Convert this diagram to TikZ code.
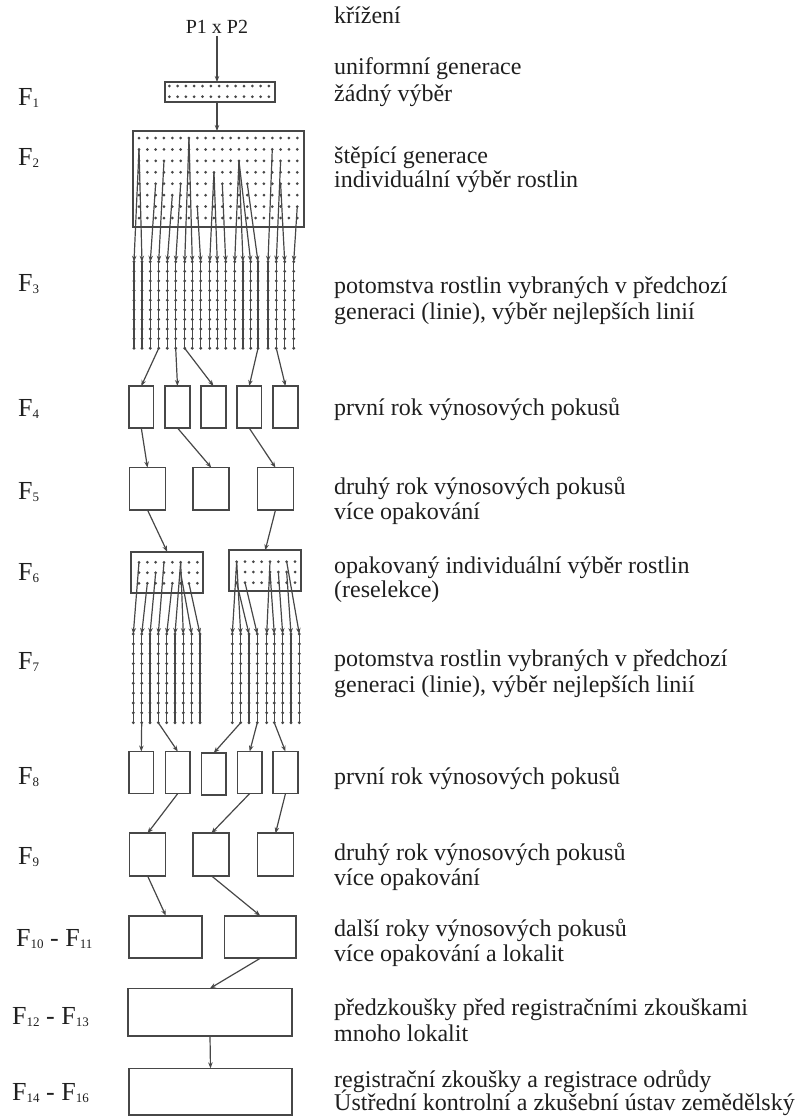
\documentclass[tikz,border=0pt]{standalone}
\usepackage{fontspec}
\setmainfont{Liberation Serif}
\usetikzlibrary{arrows.meta}
\newcommand{\sbs}[1]{\raisebox{-1.5pt}{\fontsize{13}{13}\selectfont #1}}
\begin{document}
\begin{tikzpicture}[x=1pt,y=-1pt,
  ln/.style={draw=black!72, line width=1.2pt},
  arr/.style={ln, -{Stealth[length=6pt,width=4.5pt]}},
  box/.style={draw=black!72, line width=1.7pt, inner sep=0pt, outer sep=0pt, fill=white},
  dot/.style={fill=black!72},
  lbl/.style={anchor=base west, inner sep=0pt, font=\fontsize{24}{28}\selectfont, text=black!88},
  gen/.style={anchor=base west, inner sep=0pt, font=\fontsize{26}{28}\selectfont, text=black!88},
  b24/.style={box, minimum width=24.5pt, minimum height=42pt},
  b36/.style={box, minimum width=36pt, minimum height=42.4pt}]
\useasboundingbox (0,0) rectangle (797,1117);

% ---------- boxes ----------
\node[box, minimum width=110pt, minimum height=20pt] (f1) at (220,92) {};
\node[box, minimum width=171pt, minimum height=96pt] (f2) at (218.5,179) {};
\node[b24] (f4a) at (141.3,407) {};
\node[b24] (f4b) at (177.5,407) {};
\node[b24] (f4c) at (213.5,407) {};
\node[b24] (f4d) at (249.2,407) {};
\node[b24] (f4e) at (285.5,407) {};
\node[b36] (f5a) at (147.5,488.8) {};
\node[b36] (f5b) at (211.3,488.8) {};
\node[b36] (f5c) at (275.5,488.8) {};
\node[box, minimum width=72pt, minimum height=41pt] (f6a) at (167.2,572.2) {};
\node[box, minimum width=72pt, minimum height=41pt] (f6b) at (265.2,570.8) {};
\node[b24] (f8a) at (141.3,772.5) {};
\node[b24] (f8b) at (177.8,772.5) {};
\node[b24] (f8c) at (213.7,774) {};
\node[b24] (f8d) at (249.7,772.5) {};
\node[b24] (f8e) at (285.5,772.5) {};
\node[b36] (f9a) at (147.5,854.5) {};
\node[b36] (f9b) at (211.3,854.5) {};
\node[b36] (f9c) at (275.5,854.5) {};
\node[box, minimum width=73pt, minimum height=42.6pt] (f10a) at (165.8,937) {};
\node[box, minimum width=71.7pt, minimum height=42.6pt] (f10b) at (260.2,937) {};
\node[box, minimum width=163.4pt, minimum height=47.7pt] (f12) at (210,1012.2) {};
\node[box, minimum width=162.4pt, minimum height=46.7pt] (f14) at (210.5,1091.7) {};

% ---------- dots in boxes ----------
\foreach \i in {0,...,12} \foreach \y in {86,96.7} \fill[dot] ({169.3+8.3*\i},\y) circle (1.5pt);
\foreach \i in {0,...,19} \foreach \r in {0,...,7} \fill[dot] ({139+8.33*\i},{138+11.43*\r}) circle (1.5pt);
\foreach \i in {0,...,7} \foreach \y in {562.3,572.7,583.3} \fill[dot] ({139+8.33*\i},\y) circle (1.5pt);
\foreach \i in {0,...,7} \foreach \y in {561.7,572,582.7} \fill[dot] ({236.7+8.33*\i},\y) circle (1.5pt);

% ---------- top ----------
\node[inner sep=2pt, font=\fontsize{20}{22}\selectfont, text=black!88] (px) at (217,27) {P1 x P2};
\draw[arr] (px.south) -- (px.south |- f1.north);
\draw[arr] (f1.south -| px) -- (f2.north -| px);

% ---------- F3 lines ----------
\foreach \x/\c/\r [count=\i] in {134/0/1,142/0/1,150.3/2/4,158.7/3/2,167.3/4/5,175.7/5/4,184.7/6/0,192.3/6/0,200.7/7/6,209.7/9/3,217.3/9/3,225.7/10/4,234.7/12/2,243/12/2,250.7/12/2,258/13/4,268/16/1,276.3/17/2,284.7/17/4,293.7/19/6}{
  \coordinate (c3-\i) at (\x,348.3);
  \draw[ln] (\x,261.7) -- (c3-\i);
  \foreach \k in {0,...,9} \fill[dot] (\x,{261.7+9.62*\k}) circle (1.6pt);
  \draw[arr] ({139+8.33*\c},{138+11.43*\r}) -- (\x,261.7);
}
\draw[arr] (c3-4) -- (f4a.north);
\draw[arr] (c3-6) -- (f4b.north);
\draw[arr] (c3-7) -- (f4c.north);
\draw[arr] (c3-16) -- (f4d.north);
\draw[arr] (c3-18) -- (f4e.north);

% ---------- F4 -> F5 -> F6 ----------
\draw[arr] (f4a.south) -- (f5a.north);
\draw[arr] (f4b.south) -- (f5b.north);
\draw[arr] (f4d.south) -- (f5c.north);
\draw[arr] (f5a.south) -- (f6a.north);
\draw[arr] (f5c.south) -- (f6b.north);

% ---------- F7 lines ----------
\foreach \x/\c/\r [count=\i] in {133.3/0/0,141.7/1/2,150/2/1,158.3/3/0,166.7/4/2,175/5/0,183.3/5/0,191.7/5/1,200/6/2}{
  \coordinate (g1-\i) at (\x,722.7);
  \draw[ln] (\x,634) -- (g1-\i);
  \foreach \k in {0,...,9} \fill[dot] (\x,{634+9.85*\k}) circle (1.6pt);
  \draw[arr] ({139+8.33*\c},{562.3+10.5*\r}) -- (\x,634);
}
\foreach \x/\c/\r [count=\i] in {232.3/0/0,240.7/0/0,249/0/2,257.3/1/2,266.7/4/0,274.3/4/1,282.7/5/1,291/6/1,299.3/6/0}{
  \coordinate (g2-\i) at (\x,722.7);
  \draw[ln] (\x,634) -- (g2-\i);
  \foreach \k in {0,...,9} \fill[dot] (\x,{634+9.85*\k}) circle (1.6pt);
  \draw[arr] ({236.7+8.33*\c},{561.7+10.5*\r}) -- (\x,634);
}
\draw[arr] (g1-2) -- (f8a.north);
\draw[arr] (g1-4) -- (f8b.north);
\draw[arr] (g2-2) -- (f8c.north);
\draw[arr] (g2-4) -- (f8d.north);
\draw[arr] (g2-6) -- (f8e.north);

% ---------- F8 -> F14 ----------
\draw[arr] (f8b.south) -- (f9a.north);
\draw[arr] (f8d.south) -- (f9b.north);
\draw[arr] (f8e.south) -- (f9c.north);
\draw[arr] (f9a.south) -- (f10a.north);
\draw[arr] (f9b.south) -- (f10b.north);
\draw[arr] (f10b.south) -- (f12.north);
\draw[arr] (f12.south) -- (f14.north);

% ---------- generation labels ----------
\node[gen] (l1) at (18,105.5) {F\sbs{1}};
\node[gen] (l2) at (18,165.5) {F\sbs{2}};
\node[gen] (l3) at (18,291.5) {F\sbs{3}};
\node[gen] (l4) at (18,416.5) {F\sbs{4}};
\node[gen] (l5) at (18,499.5) {F\sbs{5}};
\node[gen] (l6) at (18,580.5) {F\sbs{6}};
\node[gen] (l7) at (18,669.5) {F\sbs{7}};
\node[gen] (l8) at (18,784.5) {F\sbs{8}};
\node[gen] (l9) at (18,864.5) {F\sbs{9}};
\node[gen] (l10) at (16,946.5) {F\sbs{10} - F\sbs{11}};
\node[gen] (l12) at (12,1024.5) {F\sbs{12} - F\sbs{13}};
\node[gen] (l14) at (12,1100.5) {F\sbs{14} - F\sbs{16}};

% ---------- descriptions ----------
\node[lbl] (t0) at (334,23) {křížení};
\node[lbl] (t1a) at (334,74) {uniformní generace};
\node[lbl] (t1b) at (334,101) {žádný výběr};
\node[lbl] (t2a) at (334,163) {štěpící generace};
\node[lbl] (t2b) at (334,187) {individuální výběr rostlin};
\node[lbl] (t3a) at (334,293) {potomstva rostlin vybraných v předchozí};
\node[lbl] (t3b) at (334,319) {generaci (linie), výběr nejlepších linií};
\node[lbl] (t4) at (334,415) {první rok výnosových pokusů};
\node[lbl] (t5a) at (334,494) {druhý rok výnosových pokusů};
\node[lbl] (t5b) at (334,519) {více opakování};
\node[lbl] (t6a) at (334,573) {opakovaný individuální výběr rostlin};
\node[lbl] (t6b) at (334,597) {(reselekce)};
\node[lbl] (t7a) at (334,666) {potomstva rostlin vybraných v předchozí};
\node[lbl] (t7b) at (334,692) {generaci (linie), výběr nejlepších linií};
\node[lbl] (t8) at (334,784) {první rok výnosových pokusů};
\node[lbl] (t9a) at (334,860) {druhý rok výnosových pokusů};
\node[lbl] (t9b) at (334,885) {více opakování};
\node[lbl] (t10a) at (334,936) {další roky výnosových pokusů};
\node[lbl] (t10b) at (334,961) {více opakování a lokalit};
\node[lbl] (t12a) at (334,1015) {předzkoušky před registračními zkouškami};
\node[lbl] (t12b) at (334,1041) {mnoho lokalit};
\node[lbl] (t14a) at (334,1087) {registrační zkoušky a registrace odrůdy};
\node[lbl] (t14b) at (334,1110) {Ústřední kontrolní a zkušební ústav zemědělský};
\end{tikzpicture}
\end{document}
